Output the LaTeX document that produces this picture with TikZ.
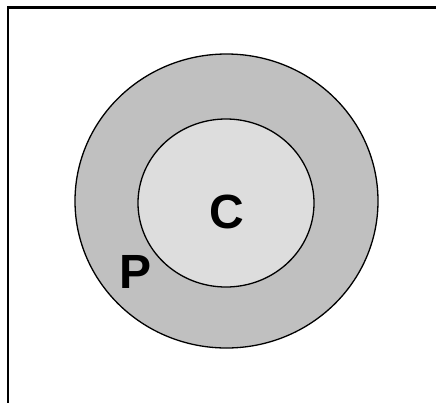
\documentclass[tikz,border=0pt]{standalone}
\usepackage{fontspec}
\setmainfont{Liberation Sans}
\definecolor{outergray}{RGB}{192,192,192}
\definecolor{innergray}{RGB}{221,221,221}
\begin{document}
\begin{tikzpicture}[x=1pt,y=-1pt,
  ring/.style={draw=black,line width=1.3pt},
  frameline/.style={draw=black,line width=2.2pt,line cap=rect},
  biglabel/.style={font=\fontsize{48}{48}\selectfont\bfseries,inner sep=0pt}]
\useasboundingbox (0,0) rectangle (436,402);
\draw[frameline] (8,402) -- (8,7.5) -- (437,7.5);
\path[ring,fill=outergray] (226.5,201) ellipse [x radius=151.5,y radius=147];
\path[ring,fill=innergray] (226,203) ellipse [x radius=88,y radius=84];
\node[biglabel] (C) at (227,211.5) {C};
\node[biglabel] (P) at (136,272) {P};
\end{tikzpicture}
\end{document}
